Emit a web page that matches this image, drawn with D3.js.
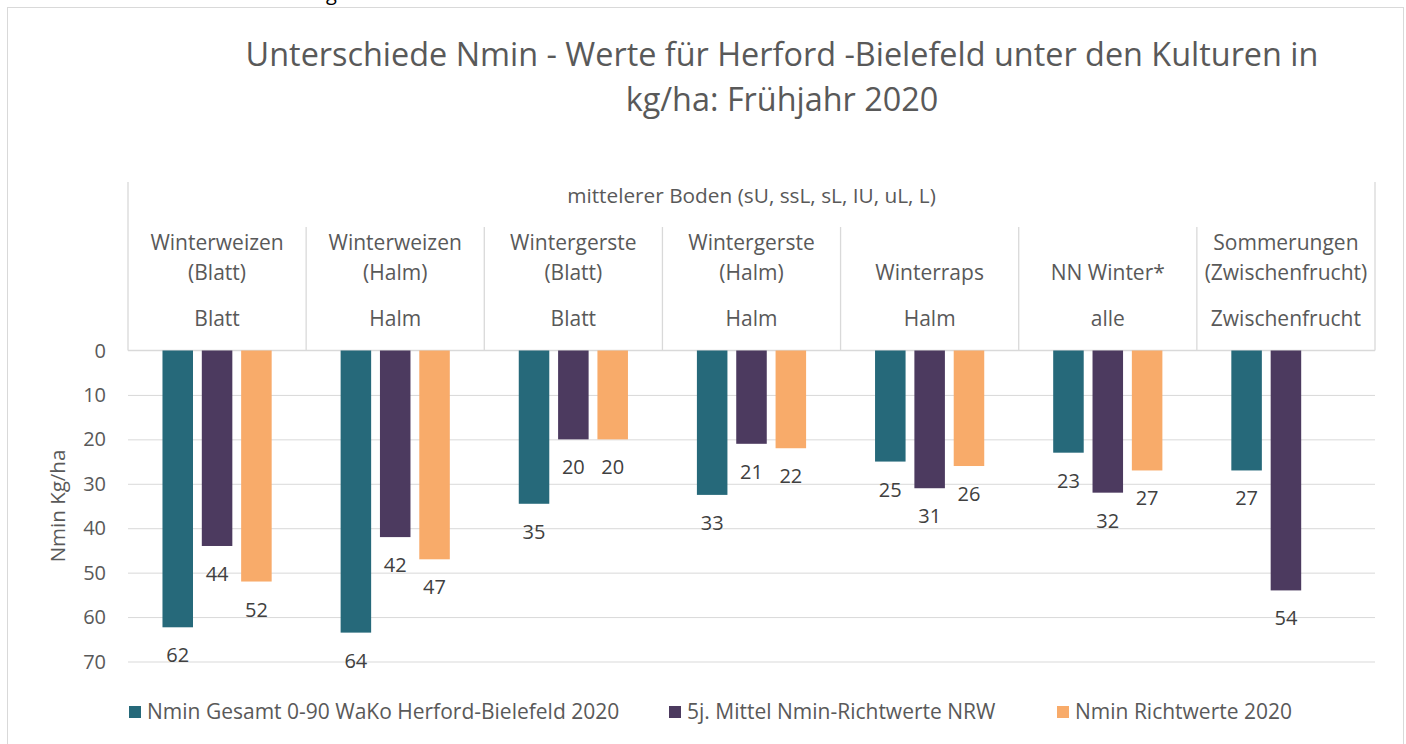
<html>

<head>
  <script src="https://d3js.org/d3.v7.min.js"></script>
  <style>
    body {
      margin: 0;
      background: #fff;
    }

    svg text {
      font-family: "Open Sans", "Noto Sans", sans-serif;
    }

    .gridlines .domain {
      display: none;
    }

    .gridlines line {
      stroke: #d9d9d9;
    }
  </style>
</head>

<body>
  <svg id="chart" width="1406" height="744"></svg>
  <script>
    // data
    const crops = [
      ["Winterweizen", "(Blatt)"],
      ["Winterweizen", "(Halm)"],
      ["Wintergerste", "(Blatt)"],
      ["Wintergerste", "(Halm)"],
      ["Winterraps"],
      ["NN Winter*"],
      ["Sommerungen", "(Zwischenfrucht)"]
    ];
    const subLabels = ["Blatt", "Halm", "Blatt", "Halm", "Halm", "alle", "Zwischenfrucht"];
    const groupLabel = "mittelerer Boden (sU, ssL, sL, IU, uL, L)";
    const seriesNames = ["Nmin Gesamt 0-90 WaKo Herford-Bielefeld 2020", "5j. Mittel Nmin-Richtwerte NRW", "Nmin Richtwerte 2020"];
    const gesamt = [62.3, 63.5, 34.5, 32.5, 25, 23, 27];
    const mittel = [44, 42, 20, 21, 31, 32, 54];
    const richtwerte = [52, 47, 20, 22, 26, 27, null];
    const yTicks = [0, 10, 20, 30, 40, 50, 60, 70];
    const colors = ["#26697a", "#4c3a5f", "#f8ab6a"];

    const svg = d3.select("svg#chart");
    const left = 128, right = 1375, top0 = 350.5, bottom0 = 661.5;
    const textGrey = "#595959";

    // outer chart border
    svg.append("rect")
      .attr("x", 7.5).attr("y", 7.5)
      .attr("width", 1396).attr("height", 760)
      .attr("fill", "none").attr("stroke", "#d9d9d9");

    // cut-off text above the frame
    svg.append("text").attr("x", 326).attr("y", 0)
      .attr("font-size", 20).attr("fill", "#000").text("g");

    // title
    const title = svg.append("text")
      .attr("text-anchor", "middle")
      .attr("fill", textGrey)
      .attr("font-size", 32.4);
    title.append("tspan").attr("x", 782).attr("y", 66)
      .text("Unterschiede Nmin - Werte für Herford -Bielefeld unter den Kulturen in");
    title.append("tspan").attr("x", 782).attr("y", 111)
      .text("kg/ha: Frühjahr 2020");

    const idx = d3.range(crops.length);
    const x0 = d3.scaleBand().domain(idx).range([left, right]).padding(0);
    const x1 = d3.scaleBand().domain([0, 1, 2]).range([-59, 59]).paddingInner(0.224).paddingOuter(0.112);
    const y = d3.scaleLinear().domain([0, 70]).range([top0, bottom0]);

    // gridlines
    svg.append("g")
      .attr("class", "gridlines")
      .attr("transform", `translate(${left},0)`)
      .call(d3.axisLeft(y).tickValues(yTicks.slice(1)).tickSize(-(right - left)).tickFormat(""));

    // tick labels
    svg.append("g").selectAll("text").data(yTicks).join("text")
      .attr("x", 106).attr("y", d => y(d) + 7)
      .attr("text-anchor", "end")
      .attr("font-size", 20)
      .attr("fill", textGrey)
      .text(d => d);

    // axis title
    svg.append("text")
      .attr("transform", `translate(65,${(top0 + bottom0) / 2}) rotate(-90)`)
      .attr("text-anchor", "middle")
      .attr("font-size", 20.5)
      .attr("fill", textGrey)
      .text("Nmin Kg/ha");

    // category header table
    const header = svg.append("g").attr("stroke", "#d9d9d9").attr("stroke-width", 1.3);
    header.selectAll("line.inner").data(idx.slice(1)).join("line")
      .attr("class", "inner")
      .attr("x1", d => x0(d)).attr("x2", d => x0(d))
      .attr("y1", 227).attr("y2", top0);
    header.selectAll("line.outer").data([left, right]).join("line")
      .attr("class", "outer")
      .attr("x1", d => d).attr("x2", d => d)
      .attr("y1", 182).attr("y2", top0);
    svg.append("line")
      .attr("x1", left).attr("x2", right)
      .attr("y1", top0).attr("y2", top0)
      .attr("stroke", "#d9d9d9").attr("stroke-width", 1.5);

    svg.append("text")
      .attr("x", (left + right) / 2).attr("y", 203)
      .attr("text-anchor", "middle").attr("font-size", 20.8).attr("fill", textGrey)
      .text(groupLabel);

    const cropText = svg.append("g").selectAll("text").data(idx).join("text")
      .attr("text-anchor", "middle").attr("font-size", 21).attr("fill", textGrey);
    cropText.each(function (i) {
      const lines = crops[i];
      const cx = x0(i) + x0.bandwidth() / 2;
      lines.forEach((t, k) => {
        d3.select(this).append("tspan")
          .attr("x", cx)
          .attr("y", 280 - (lines.length - 1 - k) * 30)
          .text(t);
      });
    });

    svg.append("g").selectAll("text").data(idx).join("text")
      .attr("x", i => x0(i) + x0.bandwidth() / 2).attr("y", 326)
      .attr("text-anchor", "middle").attr("font-size", 21).attr("fill", textGrey)
      .text(i => subLabels[i]);

    // bars
    const series = [gesamt, mittel, richtwerte];
    const barData = [];
    series.forEach((vals, s) => {
      vals.forEach((v, i) => {
        if (v != null) barData.push({ s: s, i: i, v: v });
      });
    });

    const cx = d => x0(d.i) + x0.bandwidth() / 2 + x1(d.s);

    svg.append("g").selectAll("rect").data(barData).join("rect")
      .attr("x", d => cx(d))
      .attr("y", y(0))
      .attr("width", x1.bandwidth())
      .attr("height", d => y(d.v) - y(0))
      .attr("fill", d => colors[d.s]);

    svg.append("g").selectAll("text").data(barData).join("text")
      .attr("x", d => cx(d) + x1.bandwidth() / 2)
      .attr("y", d => y(d.v) + 35)
      .attr("text-anchor", "middle")
      .attr("font-size", 20)
      .attr("fill", "#404040")
      .text(d => d3.format(".0f")(d.v));

    // legend
    const legendX = [129, 669, 1057];
    const legend = svg.append("g").selectAll("g").data(seriesNames).join("g")
      .attr("transform", (d, i) => `translate(${legendX[i]},712)`);
    legend.append("rect")
      .attr("x", 0).attr("y", -6)
      .attr("width", 12).attr("height", 12)
      .attr("fill", (d, i) => colors[i]);
    legend.append("text")
      .attr("x", 18).attr("y", 7)
      .attr("font-size", 21).attr("fill", textGrey)
      .text(d => d);
  </script>
</body>

</html>
